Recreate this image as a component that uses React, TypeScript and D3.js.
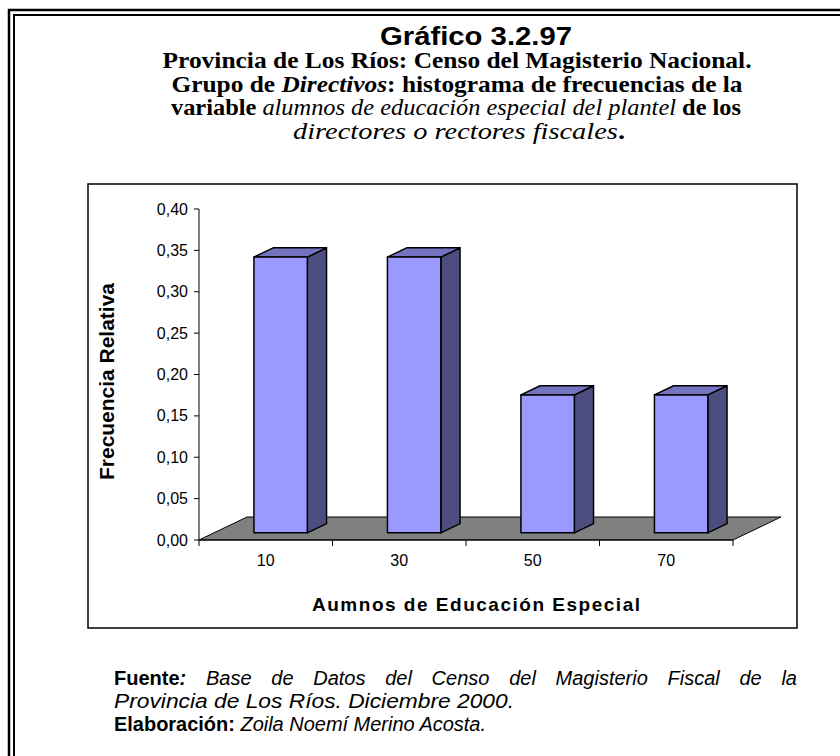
import React, { useEffect, useRef } from "react";
import * as d3 from "d3";

const categories = ["10", "30", "50", "70"];
const frequencies = [0.3333, 0.3333, 0.1667, 0.1667];
const yTicks = [0, 0.05, 0.1, 0.15, 0.2, 0.25, 0.3, 0.35, 0.4];
const yAxisTitle = "Frecuencia Relativa";
const xAxisTitle = "Aumnos de Educación Especial";

const W = 840;
const H = 756;

// plot geometry
const plotLeft = 199;
const plotRight = 733;
const plotBottom = 540;
const plotTop = 209;
const depthX = 48;
const depthY = 23;
const f0 = 0.31;
const f1 = 0.71;

export default function App() {
  const footRef = useRef<SVGTextElement>(null);

  useEffect(() => {
    const el = footRef.current;
    if (!el) return;
    const target = 797 - 114;
    el.setAttribute("word-spacing", "0");
    const len = el.getComputedTextLength();
    const txt = el.textContent || "";
    const spaces = (txt.match(/ /g) || []).length;
    if (spaces > 0 && len < target) {
      el.setAttribute("word-spacing", String((target - len) / spaces));
    }
  }, []);

  const x = d3
    .scaleBand<string>()
    .domain(categories)
    .range([plotLeft, plotRight])
    .paddingInner(0.6)
    .paddingOuter(0.3);
  const y = d3.scaleLinear().domain([0, 0.4]).range([plotBottom, plotTop]);
  const step = x.step();
  const fmt = (v: number) => d3.format(".2f")(v).replace(".", ",");

  const floor = d3.line()([
    [plotLeft, plotBottom],
    [plotRight, plotBottom],
    [plotRight + depthX, plotBottom - depthY],
    [plotLeft + depthX, plotBottom - depthY],
  ]) + "Z";

  const ddx = (f1 - f0) * depthX;
  const ddy = (f1 - f0) * depthY;

  const bars = categories.map((c, i) => {
    const x0 = (x(c) as number) + f0 * depthX;
    const x1 = x0 + x.bandwidth();
    const yb = y(0) - f0 * depthY;
    const yt = y(frequencies[i]) - f0 * depthY;
    const line = d3.line();
    const top = line([
      [x0, yt],
      [x1, yt],
      [x1 + ddx, yt - ddy],
      [x0 + ddx, yt - ddy],
    ]) + "Z";
    const side = line([
      [x1, yt],
      [x1 + ddx, yt - ddy],
      [x1 + ddx, yb - ddy],
      [x1, yb],
    ]) + "Z";
    return { c, x0, x1, yb, yt, top, side };
  });

  const xTickPositions = categories.map((_, i) => plotLeft + i * step).concat([plotRight]);

  const serif = "'Liberation Serif', 'Times New Roman', serif";
  const sans = "'Liberation Sans', Arial, sans-serif";

  return (
    <svg
      width={W}
      height={H}
      style={{ position: "absolute", left: 0, top: 0, background: "#fff" }}
    >
      <rect x={0} y={0} width={W} height={H} fill="#fff" />
      {/* double frame */}
      <rect x={9} y={10} width={900} height={900} fill="none" stroke="#000" strokeWidth={2.5} />
      <rect x={14} y={15} width={900} height={900} fill="none" stroke="#000" strokeWidth={2} />

      {/* titles */}
      <text x={476} y={45} textAnchor="middle" fontFamily={sans} fontWeight="bold" fontSize={25}
        textLength={192} lengthAdjust="spacingAndGlyphs" fill="#000">
        Gráfico 3.2.97
      </text>
      <g fontFamily={serif} fontWeight="bold" fontSize={23} fill="#000" textAnchor="middle">
        <text x={457} y={68} textLength={589} lengthAdjust="spacingAndGlyphs">
          Provincia de Los Ríos: Censo del Magisterio Nacional.
        </text>
        <text x={457} y={91.5} textLength={571} lengthAdjust="spacingAndGlyphs">
          Grupo de <tspan fontStyle="italic">Directivos</tspan>: histograma de frecuencias de la
        </text>
        <text x={456} y={115} textLength={570} lengthAdjust="spacingAndGlyphs">
          variable{" "}
          <tspan fontStyle="italic" fontWeight="normal">alumnos de educación especial del plantel</tspan> de los
        </text>
        <text x={459} y={138.5} fontSize={24} textLength={332} lengthAdjust="spacingAndGlyphs">
          <tspan fontStyle="italic" fontWeight="normal">directores o rectores fiscales</tspan>.
        </text>
      </g>

      {/* chart box */}
      <rect x={88} y={184} width={709} height={444} fill="#fff" stroke="#000" strokeWidth={1.5} />

      {/* floor */}
      <path d={floor} fill="#808080" stroke="#000" strokeWidth={1} />

      {/* y axis */}
      <line x1={plotLeft} y1={plotTop} x2={plotLeft} y2={plotBottom} stroke="#000" strokeWidth={1} />
      {yTicks.map((t) => (
        <g key={t}>
          <line x1={plotLeft - 5} x2={plotLeft} y1={y(t)} y2={y(t)} stroke="#000" strokeWidth={1} />
          <text
            x={188}
            y={y(t)}
            dy="0.35em"
            textAnchor="end"
            fontFamily={sans}
            fontSize={16}
            fill="#000"
          >
            {fmt(t)}
          </text>
        </g>
      ))}

      {/* x axis */}
      <line x1={plotLeft} y1={plotBottom} x2={plotRight} y2={plotBottom} stroke="#000" strokeWidth={1} />
      {xTickPositions.map((p, i) => (
        <line key={i} x1={p} x2={p} y1={plotBottom} y2={plotBottom + 6} stroke="#000" strokeWidth={1} />
      ))}
      {categories.map((c) => (
        <text
          key={c}
          x={(x(c) as number) + x.bandwidth() / 2}
          y={566}
          textAnchor="middle"
          fontFamily={sans}
          fontSize={16}
          fill="#000"
        >
          {c}
        </text>
      ))}

      {/* bars */}
      {bars.map((b) => (
        <g key={b.c} stroke="#000" strokeWidth={1.5} strokeLinejoin="round">
          <path d={b.side} fill="#4D4D80" />
          <path d={b.top} fill="#7373C0" />
          <rect x={b.x0} y={b.yt} width={b.x1 - b.x0} height={b.yb - b.yt} fill="#9999FF" />
        </g>
      ))}

      {/* axis titles */}
      <text
        transform={`translate(114, 381.5) rotate(-90)`}
        textAnchor="middle"
        fontFamily={sans}
        fontWeight="bold"
        fontSize={20}
        textLength={197}
        lengthAdjust="spacingAndGlyphs"
        fill="#000"
      >
        {yAxisTitle}
      </text>
      <text x={476} y={611} textAnchor="middle" fontFamily={sans} fontWeight="bold" fontSize={19}
        textLength={328} lengthAdjust="spacing" fill="#000">
        {xAxisTitle}
      </text>

      {/* footer */}
      <g fontFamily={sans} fontSize={20} fill="#000">
        <text ref={footRef} x={114} y={685}>
          <tspan fontWeight="bold">Fuente</tspan>
          <tspan fontWeight="bold" fontStyle="italic">:</tspan>
          <tspan fontStyle="italic"> Base de Datos del Censo del Magisterio Fiscal de la</tspan>
        </text>
        <text x={114} y={708} fontStyle="italic" textLength={400} lengthAdjust="spacingAndGlyphs">
          Provincia de Los Ríos. Diciembre 2000.
        </text>
        <text x={114} y={731} textLength={372} lengthAdjust="spacingAndGlyphs">
          <tspan fontWeight="bold">Elaboración:</tspan>
          <tspan fontStyle="italic"> Zoila Noemí Merino Acosta.</tspan>
        </text>
      </g>
    </svg>
  );
}
